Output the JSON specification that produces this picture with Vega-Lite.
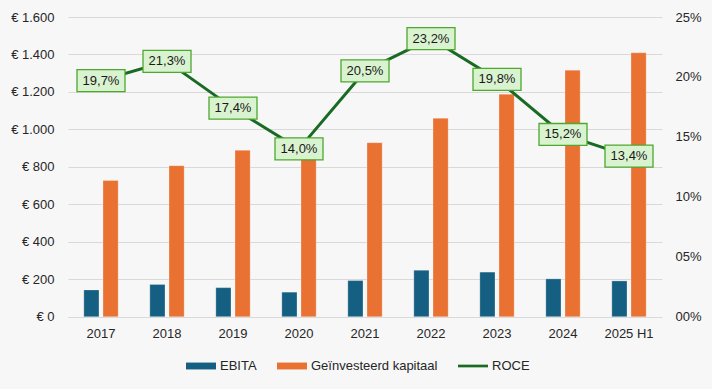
{
  "$schema": "https://vega.github.io/schema/vega-lite/v6.json",
  "width": 594,
  "height": 299.7,
  "autosize": {"type": "none"},
  "padding": {"left": 68, "top": 17, "right": 50, "bottom": 72.3},
  "background": "#f7f7f7",
  "config": {
    "view": {"stroke": null},
    "font": "Liberation Sans",
    "locale": {"number": {"decimal": ",", "thousands": ".", "grouping": [3], "currency": ["€ ", ""]}},
    "axis": {"labelFont": "Liberation Sans", "labelFontSize": 13, "labelColor": "#262626", "ticks": false, "domain": false, "title": null, "labelOverlap": false},
    "legend": {"labelFont": "Liberation Sans", "labelFontSize": 13, "labelColor": "#262626"}
  },
  "datasets": {
    "bars": [
      {"year": "2017", "series": "EBITA", "value": 143},
      {"year": "2018", "series": "EBITA", "value": 172},
      {"year": "2019", "series": "EBITA", "value": 155},
      {"year": "2020", "series": "EBITA", "value": 131},
      {"year": "2021", "series": "EBITA", "value": 193},
      {"year": "2022", "series": "EBITA", "value": 248},
      {"year": "2023", "series": "EBITA", "value": 238},
      {"year": "2024", "series": "EBITA", "value": 202},
      {"year": "2025 H1", "series": "EBITA", "value": 191},
      {"year": "2017", "series": "Geïnvesteerd kapitaal", "value": 727},
      {"year": "2018", "series": "Geïnvesteerd kapitaal", "value": 806},
      {"year": "2019", "series": "Geïnvesteerd kapitaal", "value": 888},
      {"year": "2020", "series": "Geïnvesteerd kapitaal", "value": 900},
      {"year": "2021", "series": "Geïnvesteerd kapitaal", "value": 929},
      {"year": "2022", "series": "Geïnvesteerd kapitaal", "value": 1059},
      {"year": "2023", "series": "Geïnvesteerd kapitaal", "value": 1188},
      {"year": "2024", "series": "Geïnvesteerd kapitaal", "value": 1316},
      {"year": "2025 H1", "series": "Geïnvesteerd kapitaal", "value": 1409}
    ],
    "roce": [
      {"year": "2017", "roce": 0.197},
      {"year": "2018", "roce": 0.213},
      {"year": "2019", "roce": 0.174},
      {"year": "2020", "roce": 0.140},
      {"year": "2021", "roce": 0.205},
      {"year": "2022", "roce": 0.232},
      {"year": "2023", "roce": 0.198},
      {"year": "2024", "roce": 0.152},
      {"year": "2025 H1", "roce": 0.134}
    ]
  },
  "encoding": {
    "x": {
      "field": "year", "type": "nominal", "sort": null,
      "scale": {"paddingInner": 0.48, "paddingOuter": 0.24},
      "axis": {"labelAngle": 0, "labelPadding": 11, "grid": false}
    }
  },
  "layer": [
    {
      "data": {"name": "bars"},
      "mark": {"type": "bar", "stroke": "#ffffff", "strokeOpacity": 0.5, "strokeWidth": 0.5},
      "encoding": {
        "xOffset": {"field": "series", "type": "nominal", "scale": {"paddingInner": 0.21}},
        "y": {
          "field": "value", "type": "quantitative",
          "scale": {"domain": [0, 1600]},
          "axis": {"orient": "left", "format": "$,.0f", "values": [0, 200, 400, 600, 800, 1000, 1200, 1400, 1600], "grid": true, "gridColor": "#d9d9d9", "gridWidth": 1, "labelPadding": 14}
        },
        "color": {
          "field": "series", "type": "nominal",
          "scale": {"domain": ["EBITA", "Geïnvesteerd kapitaal", "ROCE"], "range": ["#156082", "#E97132", "#196B24"]},
          "legend": {
            "orient": "none", "direction": "horizontal", "title": null,
            "legendX": 118, "legendY": 334,
            "symbolSize": 900, "labelOffset": 4, "columnPadding": 20,
            "symbolType": "M-1,-0.23H1V0.23H-1Z",
            "symbolStrokeWidth": 0,
            "encode": {
              "symbols": {
                "update": {
                  "shape": {"signal": "datum.value === 'ROCE' ? 'M-1,-0.09H1V0.09H-1Z' : 'M-1,-0.23H1V0.23H-1Z'"},
                  "fill": {"signal": "scale('color', datum.value)"},
                  "opacity": {"value": 1}
                }
              }
            }
          }
        }
      }
    },
    {
      "data": {"name": "roce"},
      "encoding": {
        "y": {
          "field": "roce", "type": "quantitative",
          "scale": {"domain": [0, 0.25]},
          "axis": {"orient": "right", "format": "03.0%", "values": [0, 0.05, 0.1, 0.15, 0.2, 0.25], "grid": false, "labelPadding": 13}
        }
      },
      "layer": [
        {
          "mark": {"type": "line", "strokeWidth": 3},
          "encoding": {
            "color": {
              "datum": "ROCE", "type": "nominal",
              "legend": {
                "orient": "none", "direction": "horizontal", "title": null,
                "legendX": 118, "legendY": 334,
                "symbolSize": 900, "labelOffset": 4, "columnPadding": 20,
                "symbolType": "M-1,-0.23H1V0.23H-1Z",
                "symbolStrokeWidth": 0,
                "encode": {
                  "symbols": {
                    "update": {
                      "shape": {"signal": "datum.value === 'ROCE' ? 'M-1,-0.09H1V0.09H-1Z' : 'M-1,-0.23H1V0.23H-1Z'"},
                      "fill": {"signal": "scale('color', datum.value)"},
                      "opacity": {"value": 1}
                    }
                  }
                }
              }
            }
          }
        },
        {
          "mark": {"type": "point", "shape": "M-1,-0.458H1V0.458H-1Z", "size": 2304, "filled": true, "fill": "#d9f2d0", "stroke": "#4ea72e", "strokeWidth": 1.3, "opacity": 1}
        },
        {
          "mark": {"type": "text", "fontSize": 13, "color": "#1a1a1a", "font": "Liberation Sans", "baseline": "middle", "align": "center"},
          "encoding": {
            "text": {"field": "roce", "type": "quantitative", "format": ".1%"}
          }
        }
      ]
    }
  ],
  "resolve": {"scale": {"y": "independent"}}
}
